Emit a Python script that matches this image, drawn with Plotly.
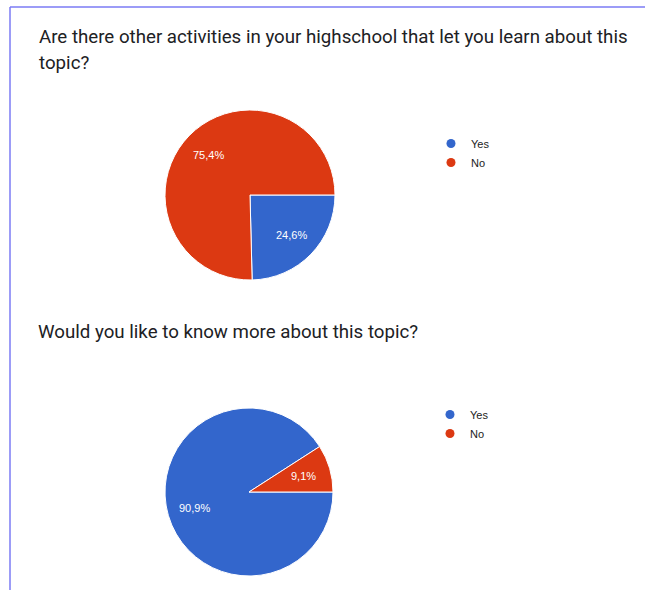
import math
import plotly.graph_objects as go

W, H = 645, 590

# Survey answers (percent of respondents)
categories = ["Yes", "No"]
colors = ["#3366cc", "#dc3912"]
q1_title_lines = ["Are there other activities in your highschool that let you learn about this", "topic?"]
q1_values = [24.6, 75.4]
q2_title_lines = ["Would you like to know more about this topic?"]
q2_values = [90.9, 9.1]

LABEL_FONT = dict(family="Arial, Liberation Sans", size=11, color="white")
TITLE_FONT = dict(family="Roboto", size=18.7, color="#202124")


def px_x(x):
    return x / W


def px_y(y):
    return 1 - y / H


def pie_domain(cx, cy, r):
    return dict(x=[px_x(cx - r), px_x(cx + r)], y=[px_y(cy + r), px_y(cy - r)])


def slice_labels(values, cx, cy, r, frac=0.68):
    """Percent labels placed on each slice's bisector (slices run clockwise from 3 o'clock)."""
    total = sum(values)
    out = []
    start = 0.0
    for v in values:
        share = v / total
        mid = (start + share / 2) * 2 * math.pi
        x = cx + frac * r * math.cos(mid)
        y = cy + frac * r * math.sin(mid)
        out.append(dict(
            text=f"{share * 100:.1f}".replace(".", ",") + "%",
            x=px_x(x), y=px_y(y), xref="paper", yref="paper",
            xanchor="center", yanchor="middle", showarrow=False, font=LABEL_FONT,
        ))
        start += share
    return out


pies = [
    (q1_values, 250, 195, 85),
    (q2_values, 249, 492, 84),
]

fig = go.Figure()
annotations = []

for vals, cx, cy, r in pies:
    fig.add_trace(go.Pie(
        labels=categories,
        values=vals,
        sort=False,
        direction="clockwise",
        rotation=90,
        marker=dict(colors=colors, line=dict(color="white", width=1)),
        textinfo="none",
        hoverinfo="label+percent",
        showlegend=False,
        domain=pie_domain(cx, cy, r),
    ))
    annotations += slice_labels(vals, cx, cy, r)

# circle legend entries for each chart
for legend_id in ["legend", "legend2"]:
    for name, col in zip(categories, colors):
        fig.add_trace(go.Scatter(
            x=[None], y=[None], mode="markers", name=name,
            marker=dict(color=col, size=9, symbol="circle"),
            legend=legend_id, showlegend=True,
        ))

legend_style = dict(
    font=dict(family="Arial, Liberation Sans", size=11, color="#222222"),
    bgcolor="rgba(0,0,0,0)", itemclick=False, itemdoubleclick=False,
    xanchor="left", yanchor="top", tracegroupgap=0, itemwidth=30,
)

# question titles
for lines, x0, y_mid in [(q1_title_lines, 37, 36.8), (q2_title_lines, 36, 332)]:
    for i, line in enumerate(lines):
        annotations.append(dict(
            text=line, x=px_x(x0), y=px_y(y_mid + 26 * i), xref="paper", yref="paper",
            xanchor="left", yanchor="middle", align="left", showarrow=False,
            font=TITLE_FONT,
        ))

fig.update_layout(
    width=W, height=H,
    margin=dict(l=0, r=0, t=0, b=0),
    paper_bgcolor="white", plot_bgcolor="white",
    xaxis=dict(visible=False), yaxis=dict(visible=False),
    legend=dict(x=px_x(431), y=px_y(129), **legend_style),
    legend2=dict(x=px_x(430), y=px_y(400), **legend_style),
    annotations=annotations,
    shapes=[
        dict(type="line", xref="paper", yref="paper", x0=px_x(10), x1=1,
             y0=px_y(7), y1=px_y(7), line=dict(color="#7b7bf5", width=1.5)),
        dict(type="line", xref="paper", yref="paper", x0=px_x(10), x1=px_x(10),
             y0=px_y(7), y1=0, line=dict(color="#7b7bf5", width=1.5)),
    ],
)

fig.write_html("out.html")
